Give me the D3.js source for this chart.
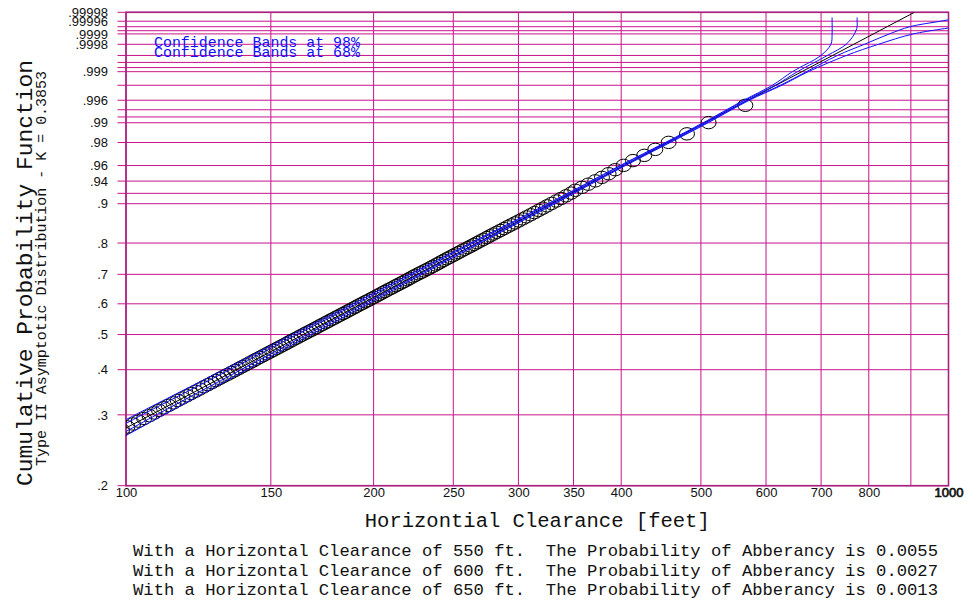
<!DOCTYPE html>
<html>
<head>
<meta charset="utf-8">
<script src="https://cdn.jsdelivr.net/npm/d3@7"></script>
<style>
  html, body { margin: 0; padding: 0; background: #fff; }
  svg { display: block; }
</style>
</head>
<body>
<div id="chart"></div>
<script>
// ---- data ----
const xGrid = [100, 150, 200, 250, 300, 350, 400, 500, 600, 700, 800, 900, 1000];
const xLabelValues = [100, 150, 200, 250, 300, 350, 400, 500, 600, 700, 800, 1000];

const yTickValues = [0.2, 0.3, 0.4, 0.5, 0.6, 0.7, 0.8, 0.9, 0.94, 0.96, 0.98, 0.99, 0.996, 0.999, 0.9998, 0.9999, 0.99996, 0.99998];
const yTickLabels = [".2", ".3", ".4", ".5", ".6", ".7", ".8", ".9", ".94", ".96", ".98", ".99", ".996", ".999", ".9998", ".9999", ".99996", ".99998"];
const yExtraGrid = [0.92, 0.992, 0.994, 0.998, 0.9992, 0.9994, 0.9996, 0.99992, 0.99994];

// observed clearances (ft) with their plotting positions (only the part inside the frame)
const clearance = [
  95.7, 97.3, 98.9, 100.4, 102.0, 103.6, 105.2, 106.8,
  108.3, 109.7, 111.2, 112.7, 114.2, 115.6, 117.1, 118.6, 120.0, 121.5,
  122.9, 124.3, 125.8, 127.2, 128.6, 130.0, 131.4, 132.9, 134.3, 135.7,
  137.1, 138.5, 139.9, 141.3, 142.7, 144.0, 145.4, 146.8, 148.2, 149.6,
  151.0, 152.4, 153.8, 155.2, 156.6, 157.9, 159.3, 160.7, 162.1, 163.5,
  164.9, 166.3, 167.8, 169.2, 170.6, 172.0, 173.4, 174.9, 176.3, 177.7,
  179.2, 180.6, 182.1, 183.6, 185.1, 186.5, 188.0, 189.5, 190.9, 192.4,
  194.0, 195.5, 197.1, 198.6, 200.2, 201.8, 203.3, 204.9, 206.4, 208.0,
  209.7, 211.4, 213.0, 214.7, 216.4, 218.1, 219.8, 221.4, 223.1, 224.8,
  226.7, 228.5, 230.4, 232.3, 234.2, 236.0, 237.9, 239.8, 241.6, 243.5,
  245.5, 247.5, 249.6, 251.7, 253.8, 255.9, 258.1, 260.4, 262.7, 265.0,
  267.3, 269.7, 272.1, 274.6, 277.1, 279.7, 282.4, 285.2, 288.1, 291.0,
  294.0, 297.1, 300.3, 303.6, 306.9, 310.4, 313.9, 317.5, 321.3, 325.1,
  329.2, 333.5, 338.0, 342.8, 347.7, 351.8, 358.4, 364.8, 372.0, 379.0,
  386.1, 393.4, 402.7, 413.4, 426.7, 440.1, 456.8, 480.9, 510.9, 566.2
];
const cumProb = [
  .2637, .2687, .2736, .2786, .2836, .2886, .2935, .2985,
  .3035, .3085, .3134, .3184, .3234, .3284, .3333, .3383, .3433, .3483,
  .3532, .3582, .3632, .3682, .3731, .3781, .3831, .3881, .3930, .3980,
  .4030, .4080, .4129, .4179, .4229, .4279, .4328, .4378, .4428, .4478,
  .4527, .4577, .4627, .4677, .4726, .4776, .4826, .4876, .4925, .4975,
  .5025, .5075, .5124, .5174, .5224, .5274, .5323, .5373, .5423, .5473,
  .5522, .5572, .5622, .5672, .5721, .5771, .5821, .5871, .5920, .5970,
  .6020, .6070, .6119, .6169, .6219, .6269, .6318, .6368, .6418, .6468,
  .6517, .6567, .6617, .6667, .6716, .6766, .6816, .6866, .6915, .6965,
  .7015, .7065, .7114, .7164, .7214, .7264, .7313, .7363, .7413, .7463,
  .7512, .7562, .7612, .7662, .7711, .7761, .7811, .7861, .7910, .7960,
  .8010, .8060, .8109, .8159, .8209, .8259, .8308, .8358, .8408, .8458,
  .8507, .8557, .8607, .8657, .8706, .8756, .8806, .8856, .8905, .8955,
  .9005, .9055, .9104, .9154, .9204, .9254, .9303, .9353, .9403, .9453,
  .9502, .9552, .9602, .9652, .97015, .97512, .98010, .98507, .99005, .99502
];

// fitted Type II line (straight on this paper)
const fitLine = [[100, 0.2767], [909, 0.99998]];

// confidence bands: [clearance, probability]
const band98Upper = [[87.5, .25], [102.6, .3], [131.6, .4], [159.3, .5], [188.8, .6], [221.4, .7], [262.5, .8], [325.8, .9], [398.8, .96], [452.5, .98], [503.1, .99], [563.7, .996], [610.8, .998], [646.0, .999], [699.6, .9996], [719.5, .9998], [721.9, .9999], [721.9, .99996], [721.9, .99997]];
const band68Upper = [[89.4, .25], [104.6, .3], [133.7, .4], [161.4, .5], [190.8, .6], [223.4, .7], [264.2, .8], [327.4, .9], [400.3, .96], [454.1, .98], [505.0, .99], [565.9, .996], [615.9, .998], [655.1, .999], [712.5, .9996], [750.8, .9998], [768.4, .9999], [774.3, .99994], [774.3, .99996], [774.3, .99997]];
const band68Lower = [[93.3, .25], [108.9, .3], [138.0, .4], [165.8, .5], [194.9, .6], [227.2, .7], [267.8, .8], [330.5, .9], [403.3, .96], [457.2, .98], [508.4, .99], [570.4, .996], [624.6, .998], [671.8, .999], [732.7, .9996], [790.3, .9998], [847.6, .9999], [897.7, .99994], [977.8, .99996], [1039.9, .99997]];
const band98Lower = [[95.3, .25], [111.1, .3], [140.2, .4], [168.0, .5], [197.0, .6], [229.1, .7], [269.6, .8], [332.1, .9], [404.8, .96], [458.8, .98], [510.2, .99], [572.6, .996], [627.2, .998], [675.5, .999], [751.4, .9996], [821.9, .9998], [906.5, .9999], [1028.3, .99994]];

const legendLines = ["Confidence Bands at 98%", "Confidence Bands at 68%"];
const notes = [
  "With a Horizontal Clearance of 550 ft.  The Probability of Abberancy is 0.0055",
  "With a Horizontal Clearance of 600 ft.  The Probability of Abberancy is 0.0027",
  "With a Horizontal Clearance of 650 ft.  The Probability of Abberancy is 0.0013"
];

// ---- layout ----
const width = 968, height = 603;
const plot = { left: 126, right: 948.5, top: 12.3, bottom: 485.7 };
const gridColor = "#c8148c";
const mono = "'Liberation Mono', 'DejaVu Sans Mono', monospace";
const sans = "'Liberation Sans', Arial, sans-serif";

const svg = d3.select("#chart").append("svg")
    .attr("width", width)
    .attr("height", height)
    .attr("viewBox", [0, 0, width, height]);

const xScale = d3.scaleLog().domain([100, 1000]).range([plot.left, plot.right]);
// probability paper: linear in ln(-ln(-ln p) + 0.944)
const probT = p => Math.log(-Math.log(-Math.log(p)) + 0.944);
const tScale = d3.scaleLinear().domain([probT(0.2), probT(0.99998)]).range([plot.bottom, plot.top]);
const yOf = p => tScale(probT(p));

svg.append("defs").append("clipPath").attr("id", "plotclip")
  .append("rect")
    .attr("x", plot.left).attr("y", plot.top)
    .attr("width", plot.right - plot.left).attr("height", plot.bottom - plot.top);

// grid
const grid = svg.append("g");
grid.selectAll("line.vg").data(xGrid).join("line")
    .attr("class", "vg")
    .attr("x1", d => xScale(d)).attr("x2", d => xScale(d))
    .attr("y1", plot.top).attr("y2", plot.bottom)
    .attr("stroke", gridColor).attr("stroke-width", 1);
grid.selectAll("line.hg").data(yTickValues.concat(yExtraGrid)).join("line")
    .attr("class", "hg")
    .attr("x1", plot.left - 8.5).attr("x2", plot.right)
    .attr("y1", d => yOf(d)).attr("y2", d => yOf(d))
    .attr("stroke", gridColor).attr("stroke-width", 1);

svg.append("rect")
    .attr("x", plot.left).attr("y", plot.top)
    .attr("width", plot.right - plot.left).attr("height", plot.bottom - plot.top)
    .attr("fill", "none").attr("stroke", "#a8207e").attr("stroke-width", 1.6);

// axes labels
const xAxis = svg.append("g")
    .attr("transform", `translate(0,${plot.bottom})`)
    .call(d3.axisBottom(xScale).tickValues(xLabelValues).tickFormat(d3.format("d")).tickSize(0).tickPadding(2));
xAxis.select(".domain").remove();
xAxis.selectAll("text")
    .attr("font-family", sans).attr("font-size", 13).attr("fill", "#111")
    .attr("stroke", d => d === 1000 ? "#111" : null)
    .attr("stroke-width", d => d === 1000 ? 0.7 : null);

const yAxis = svg.append("g")
    .attr("transform", `translate(${plot.left},0)`)
    .call(d3.axisLeft(tScale).tickValues(yTickValues.map(probT)).tickFormat((d, i) => yTickLabels[i]).tickSize(0).tickPadding(18));
yAxis.select(".domain").remove();
yAxis.selectAll("text")
    .attr("font-family", sans).attr("font-size", 13).attr("fill", "#111");

// marks
const marks = svg.append("g").attr("clip-path", "url(#plotclip)");
const line = d3.line().x(d => xScale(d[0])).y(d => yOf(d[1]));
const curve = d3.line().x(d => xScale(d[0])).y(d => yOf(d[1])).curve(d3.curveCatmullRom.alpha(0.5));

marks.append("path")
    .attr("d", line(fitLine))
    .attr("fill", "none").attr("stroke", "#000").attr("stroke-width", 1);

marks.selectAll("ellipse").data(clearance).join("ellipse")
    .attr("cx", d => xScale(d))
    .attr("cy", (d, i) => yOf(cumProb[i]))
    .attr("rx", 7.5).attr("ry", 6.2)
    .attr("fill", "none").attr("stroke", "#000").attr("stroke-width", 1);

[band98Upper, band68Upper, band68Lower, band98Lower].forEach(b => {
  marks.append("path")
      .attr("d", curve(b))
      .attr("fill", "none").attr("stroke", "#1010ff").attr("stroke-width", 1);
});

// legend
svg.append("g").selectAll("text").data(legendLines).join("text")
    .attr("x", 154).attr("y", (d, i) => 46.5 + i * 10.5)
    .attr("font-family", mono).attr("font-size", 15).attr("fill", "#1010ff")
    .attr("textLength", 206).attr("lengthAdjust", "spacingAndGlyphs")
    .text(d => d);

// titles
svg.append("text")
    .attr("transform", "translate(32,273) rotate(-90)")
    .attr("text-anchor", "middle")
    .attr("font-family", mono).attr("font-size", 22).attr("fill", "#111")
    .attr("textLength", 426).attr("lengthAdjust", "spacingAndGlyphs")
    .text("Cumulative Probability Function");
svg.append("text")
    .attr("transform", "translate(46,268.5) rotate(-90)")
    .attr("text-anchor", "middle")
    .attr("font-family", mono).attr("font-size", 14).attr("fill", "#111")
    .attr("textLength", 395).attr("lengthAdjust", "spacingAndGlyphs")
    .text("Type II Asymptotic Distribution - K = 0.3853");
svg.append("text")
    .attr("x", (plot.left + plot.right) / 2).attr("y", 527)
    .attr("text-anchor", "middle")
    .attr("font-family", mono).attr("font-size", 20).attr("fill", "#111")
    .attr("textLength", 345).attr("lengthAdjust", "spacingAndGlyphs")
    .text("Horizontial Clearance [feet]");

svg.append("g").selectAll("text").data(notes).join("text")
    .attr("x", 133).attr("y", (d, i) => 556 + i * 19.5)
    .attr("font-family", mono).attr("font-size", 17).attr("fill", "#111")
    .attr("textLength", 805).attr("lengthAdjust", "spacingAndGlyphs")
    .attr("xml:space", "preserve")
    .style("white-space", "pre")
    .text(d => d);
</script>
</body>
</html>
